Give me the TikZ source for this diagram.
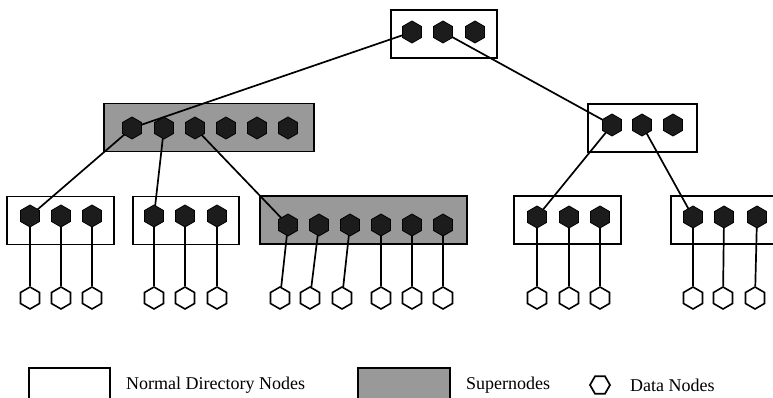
\documentclass[tikz,border=0pt]{standalone}
\usepackage{fontspec}
\setmainfont{Liberation Serif}
\usetikzlibrary{shapes.geometric}
\pgfdeclarelayer{boxlayer}
\pgfdeclarelayer{linelayer}
\pgfsetlayers{boxlayer,linelayer,main}
\definecolor{superfill}{gray}{0.6}
\definecolor{dotfill}{gray}{0.11}
\begin{document}
\begin{tikzpicture}[x=1pt,y=1pt,
  wire/.style={line width=1.7pt},
  dirbox/.style={draw, line width=1.7pt, fill=white, minimum height=48pt, inner sep=0pt},
  superbox/.style={dirbox, fill=superfill},
  keydot/.style={regular polygon, regular polygon sides=6, shape border rotate=30,
    draw, line width=0.8pt, fill=dotfill, minimum size=22pt, inner sep=0pt},
  datanode/.style={regular polygon, regular polygon sides=6, shape border rotate=30,
    draw, line width=1.6pt, fill=white, minimum size=22pt, inner sep=0pt},
  legendtext/.style={anchor=west, font=\fontsize{18}{21}\selectfont, inner sep=0pt}]
\useasboundingbox (0,0) rectangle (773,398);

% directory boxes
\begin{pgfonlayer}{boxlayer}
  \node[dirbox, minimum width=106pt] (root) at (444,364) {};
  \node[superbox, minimum width=210pt] (sup1) at (209,270.5) {};
  \node[dirbox, minimum width=109pt] (rbox) at (642.5,270) {};
  \node[dirbox, minimum width=107pt] (b1) at (60.5,177.5) {};
  \node[dirbox, minimum width=106pt] (b2) at (186,177.5) {};
  \node[superbox, minimum width=207pt] (sup2) at (363.5,178) {};
  \node[dirbox, minimum width=107pt] (b4) at (567.5,178) {};
  \node[dirbox, minimum width=107pt] (b5) at (724.5,178) {};
  % legend
  \node[dirbox, minimum width=81pt, minimum height=44pt] (keynormal) at (69.5,8) {};
  \node[superbox, minimum width=92pt, minimum height=44pt] (keysuper) at (404,8) {};
\end{pgfonlayer}

% key dots inside the boxes
\foreach \x [count=\i] in {412,443,475} \node[keydot] (r\i) at (\x,366) {};
\foreach \x [count=\i] in {132,164,195,226,257,288} \node[keydot] (s\i) at (\x,270) {};
\foreach \x [count=\i] in {612,642,673} \node[keydot] (q\i) at (\x,273) {};
\foreach \x [count=\i] in {30,61,92} \node[keydot] (a\i) at (\x,182) {};
\foreach \x [count=\i] in {154,185,217} \node[keydot] (b\i) at (\x,182) {};
\foreach \x [count=\i] in {288,319,350,381,412,443} \node[keydot] (c\i) at (\x,173) {};
\foreach \x [count=\i] in {537,569,600} \node[keydot] (d\i) at (\x,181) {};
\foreach \x [count=\i] in {693,724,757} \node[keydot] (e\i) at (\x,181) {};

% data nodes
\foreach \x [count=\i] in {30,61,92} \node[datanode] (da\i) at (\x,100) {};
\foreach \x [count=\i] in {154,185,217} \node[datanode] (db\i) at (\x,100) {};
\foreach \x [count=\i] in {280,310,342,381,412,443} \node[datanode] (dc\i) at (\x,100) {};
\foreach \x [count=\i] in {537,569,600} \node[datanode] (dd\i) at (\x,100) {};
\foreach \x [count=\i] in {693,723,755} \node[datanode] (de\i) at (\x,100) {};

% pointers between directory levels and down to the data
\begin{pgfonlayer}{linelayer}
  \draw[wire] (r1.center) -- (s1.center);
  \draw[wire] (r2.center) -- (q1.center);
  \draw[wire] (s1.center) -- (a1.center);
  \draw[wire] (s2.center) -- (b1.center);
  \draw[wire] (s3.center) -- (c1.center);
  \draw[wire] (q1.center) -- (d1.center);
  \draw[wire] (q2.center) -- (e1.center);
  \foreach \p in {a,b,d,e}
    \foreach \i in {1,2,3}
      \draw[wire] (\p\i.center) -- (d\p\i);
  \foreach \i in {1,...,6}
    \draw[wire] (c\i.center) -- (dc\i);
\end{pgfonlayer}

% legend
\node[legendtext] (tnormal) at (126,13) {Normal Directory Nodes};
\node[legendtext] (tsuper) at (466,13) {Supernodes};
\node[regular polygon, regular polygon sides=6, draw, line width=1.7pt,
  minimum size=20pt, inner sep=0pt] (keydata) at (600,13) {};
\node[legendtext] (tdata) at (630,13) {Data Nodes};
\end{tikzpicture}
\end{document}
